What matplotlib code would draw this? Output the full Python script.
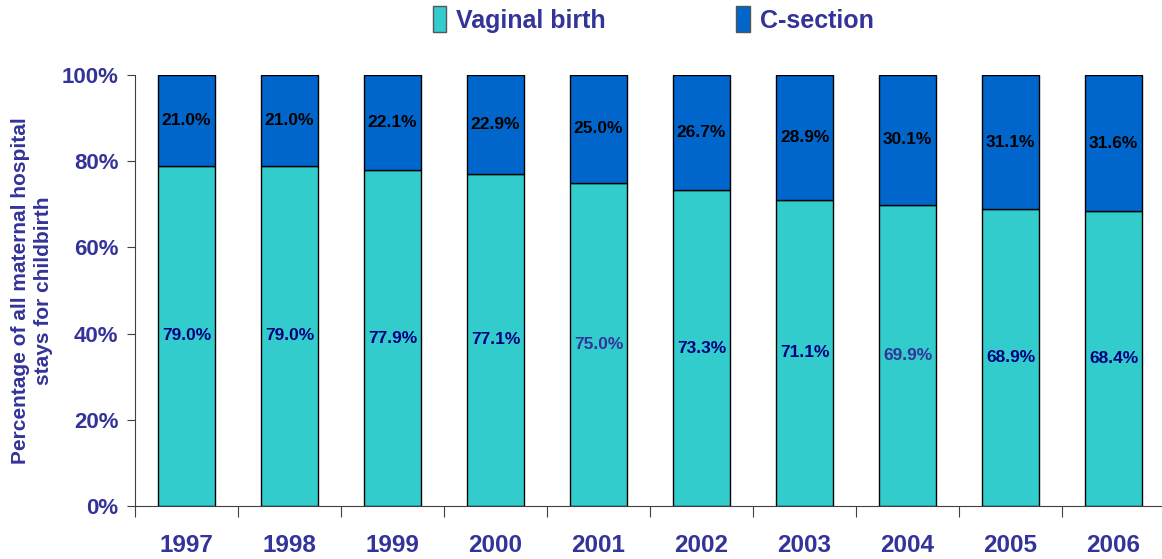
import matplotlib
matplotlib.use('Agg')
import matplotlib.pyplot as plt
from matplotlib.patches import Patch

plt.rcParams['font.family'] = ['Liberation Sans', 'DejaVu Sans']

years = ['1997', '1998', '1999', '2000', '2001', '2002', '2003', '2004', '2005', '2006']
vaginal = [79.0, 79.0, 77.9, 77.1, 75.0, 73.3, 71.1, 69.9, 68.9, 68.4]
csection = [21.0, 21.0, 22.1, 22.9, 25.0, 26.7, 28.9, 30.1, 31.1, 31.6]
# a couple of the in-bar labels are drawn in a lighter purple in the original
vag_label_colors = ['#000080', '#000080', '#000080', '#000080', '#333399',
                    '#000080', '#000080', '#333399', '#000080', '#000080']

teal = '#33CCCC'
blue = '#0066CC'
txt = '#333399'

fig = plt.figure(figsize=(11.62, 5.59), dpi=100)
ax = fig.add_axes([0.1162, 0.0948, 0.8838, 0.771])

x = range(len(years))
ax.bar(x, vaginal, width=0.55, color=teal, edgecolor='black', linewidth=1)
ax.bar(x, csection, width=0.55, bottom=vaginal, color=blue, edgecolor='black', linewidth=1)

for i in x:
    ax.text(i, vaginal[i] / 2, '{:.1f}%'.format(vaginal[i]), ha='center', va='center',
            fontsize=12.5, fontweight='bold', color=vag_label_colors[i])
    ax.text(i, vaginal[i] + csection[i] / 2, '{:.1f}%'.format(csection[i]), ha='center',
            va='center', fontsize=12.5, fontweight='bold', color='black')

ax.set_xlim(-0.5, 9.47)
ax.set_ylim(0, 100)
ax.set_yticks([0, 20, 40, 60, 80, 100])
ax.set_yticklabels(['{}%'.format(v) for v in [0, 20, 40, 60, 80, 100]])
ax.set_xticks([i - 0.5 for i in range(10)])
ax.set_xticklabels([])
ax.set_xticks(list(x), minor=True)
ax.set_xticklabels(years, minor=True)
ax.tick_params(axis='x', which='major', direction='out', length=8, color='#404040')
ax.tick_params(axis='x', which='minor', length=0, pad=20, labelsize=17.5, labelcolor=txt)
for lab in ax.get_xticklabels(minor=True):
    lab.set_fontweight('bold')
ax.tick_params(axis='y', direction='out', length=6, pad=6, color='#404040', labelsize=16,
               labelcolor=txt)
for lab in ax.get_yticklabels():
    lab.set_fontweight('bold')

for s in ['top', 'right']:
    ax.spines[s].set_visible(False)
ax.spines['left'].set_color('#404040')
ax.spines['bottom'].set_color('#404040')

ax.set_ylabel('Percentage of all maternal hospital\nstays for childbirth', fontsize=15,
              fontweight='bold', color=txt, labelpad=6, linespacing=1.3)

handles = [Patch(facecolor=teal, edgecolor='#555555'), Patch(facecolor=blue, edgecolor='#555555')]
fig.legend(handles, ['Vaginal birth', 'C-section'], loc='center', bbox_to_anchor=(0.562, 0.965),
           ncol=2, frameon=False, columnspacing=5.2, handlelength=0.55, handleheight=1.2,
           handletextpad=0.4, prop={'size': 18, 'weight': 'bold'}, labelcolor=txt)

fig.savefig('out.png', dpi=100)
